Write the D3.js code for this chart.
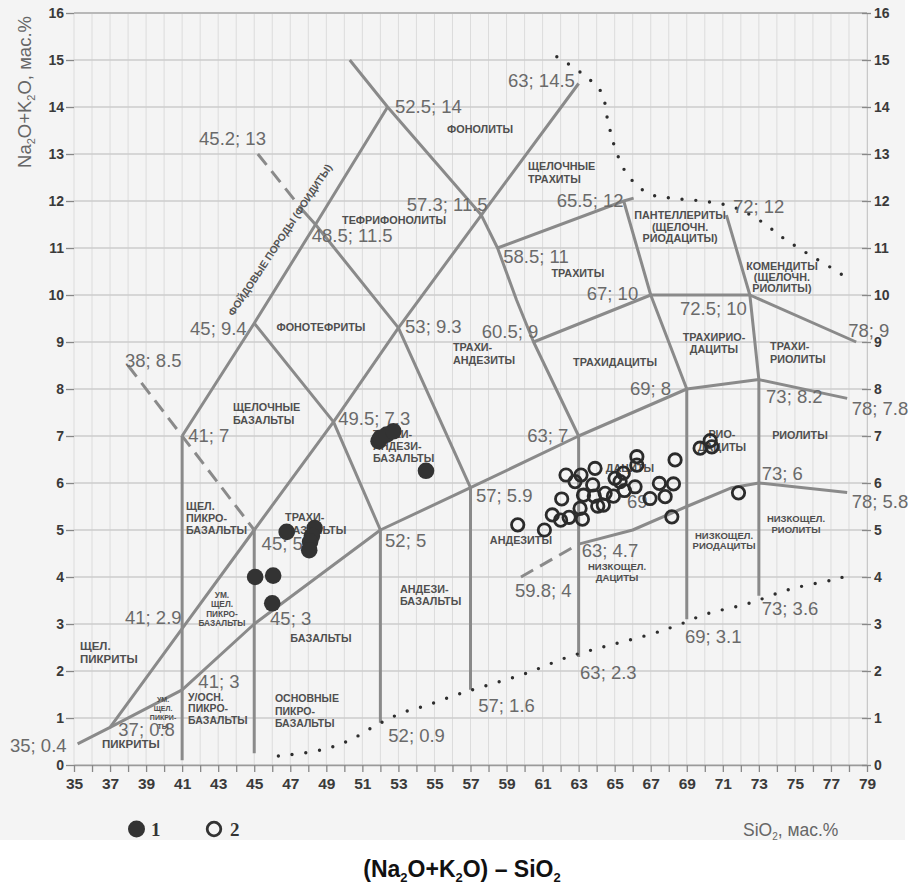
<!DOCTYPE html>
<html><head><meta charset="utf-8">
<script src="https://cdn.jsdelivr.net/npm/d3@7/dist/d3.min.js"></script>
<style>
body{margin:0;background:#fff;}
svg{display:block;font-family:"Liberation Sans",Arial,Helvetica,sans-serif;}
</style>
</head><body>
<svg id="chart" width="919" height="885"></svg>
<script>
// ---------- data ----------
const xTickLabels = [35,37,39,41,43,45,47,49,51,53,55,57,59,61,63,65,67,69,71,73,75,77,79];
const yTickLabels = [0,1,2,3,4,5,6,7,8,9,10,11,12,13,14,15,16];

// series 1 (filled circles)
const s1SiO2 = [45.05, 46.05, 46.0, 46.8, 48.35, 48.2, 48.1, 48.05, 51.9, 52.0, 52.35, 52.72, 54.53];
const s1Alk  = [4.0, 4.03, 3.44, 4.96, 5.04, 4.87, 4.75, 4.57, 6.89, 6.96, 7.03, 7.1, 6.26];

// series 2 (open circles)
const s2SiO2 = [59.62,61.10,61.54,62.00,62.06,62.30,62.47,62.80,63.13,63.08,63.21,63.27,63.78,63.91,63.87,64.06,64.37,64.47,64.93,65.02,65.30,65.48,65.54,66.13,66.23,66.23,66.96,67.48,67.80,68.26,68.35,68.17,69.74,70.30,70.39,71.87];
const s2Alk  = [5.11,5.00,5.32,5.21,5.66,6.17,5.27,6.03,6.17,5.46,5.23,5.74,5.96,6.31,5.72,5.51,5.53,5.78,5.72,6.10,6.03,6.21,5.84,5.92,6.56,6.38,5.67,5.99,5.71,5.98,6.49,5.28,6.74,6.90,6.77,5.79];

// classification boundaries (SiO2, Na2O+K2O)
const bUltraUpper   = [[35.2,0.45],[37,0.8],[41,2.9],[45,5],[49.4,7.3],[53,9.3],[57.6,11.7],[63,14.5]];
const bAlkaliLower  = [[37,0.8],[41,1.6],[45,3],[52,5],[57,5.9],[63,7],[69,8],[73,8.2],[77.9,7.8]];
const bLowAlk       = [[63,4.7],[66,5.0],[69,5.5],[71.5,5.9],[73,6],[77.9,5.8]];
const bPhonoTeph    = [[41,7],[45,9.4],[48.4,11.5],[52.4,14]];
const bTephBasalt   = [[45,9.4],[49.4,7.3],[52,5],[52,0.9]];
const bTephriphon   = [[47.7,11.8],[48.4,11.5],[53,9.3],[57,5.9],[57,1.6]];
const bTrachyte     = [[50.3,15],[52.4,14],[57.6,11.7],[58.5,11],[59.55,9.9],[60.5,9],[63,7],[63,2.3]];
const bTrachyteTop  = [[58.5,11],[65.5,12],[66.05,12.06]];
const bPantellerite = [[65.5,12],[67,10],[69,8],[69,3.1]];
const bTrachydacite = [[60.5,9],[67,10],[72.5,10],[78.4,9]];
const bComendite    = [[71.2,11.7],[72.5,10],[73,8.2],[73,3.6]];
const bX41          = [[41,0.1],[41,7]];
const bX45          = [[45,0.25],[45,5]];
// dashed boundaries
const dFoidite      = [[45.2,13],[47.7,11.8]];
const dPicro        = [[38,8.5],[45,5]];
const dLowAlk       = [[59.8,4],[63,4.7]];
// dotted boundaries
const dotUpper = [[61.79,15.07],[63.12,14.73],[64.25,14.32],[64.62,13.71],[65.02,13.13],[65.69,12.57],[66.87,12.16],[68.45,12.05],[70.06,11.99],[71.59,11.87],[73.07,11.58],[74.40,11.20],[75.75,10.87],[77.14,10.55],[77.82,10.38]];
const dotLower = [[46.34,0.19],[48.71,0.32],[50.26,0.52],[51.70,0.83],[53.14,1.10],[54.66,1.28],[56.2,1.49],[57.71,1.67],[60.07,1.95],[62.43,2.30],[64.74,2.55],[67.06,2.79],[68.53,2.98],[70.06,3.21],[72.36,3.43],[74.73,3.74],[77.10,3.94],[77.88,4.02]];

// vertex labels (text, SiO2, alk of label start/baseline)
const vertexLabels = [
 ["63; 14.5",59.08,14.42],["52.5; 14",52.81,13.87],["45.2; 13",41.94,13.19],["57.3; 11.5",53.46,11.79],
 ["65.5; 12",61.78,11.88],["72; 12",71.56,11.75],["48.5; 11.5",48.19,11.13],["58.5; 11",58.82,10.69],
 ["67; 10",63.45,9.89],["72.5; 10",68.62,9.57],["78; 9",77.96,9.11],["53; 9.3",53.37,9.19],
 ["45; 9.4",41.44,9.15],["60.5; 9",57.62,9.08],["38; 8.5",37.83,8.46],["69; 8",65.85,7.87],
 ["73; 8.2",73.40,7.70],["78; 7.8",78.15,7.45],["41; 7",41.34,6.88],["49.5; 7.3",49.66,7.23],
 ["63; 7",60.15,6.87],["57; 5.9",57.30,5.60],["73; 6",73.16,6.06],["78; 5.8",78.15,5.46],
 ["45; 5",45.41,4.57],["52; 5",52.26,4.64],["63; 4.7",63.17,4.43],["59.8; 4",59.47,3.58],
 ["41; 2.9",37.83,3.01],["45; 3",45.88,2.98],["73; 3.6",73.16,3.19],["69; 3.1",68.90,2.59],
 ["41; 3",41.90,1.63],["63; 2.3",63.08,1.84],["57; 1.6",57.43,1.13],["37; 0.8",37.46,0.62],
 ["35; 0.4",31.45,0.28],["52; 0.9",52.44,0.50],["69",65.68,5.47]
];

// rock-field labels: lines, SiO2, alk (first baseline), anchor, size, line step
const fieldLabels = [
 [["ФОНОЛИТЫ"],57.53,13.44,"middle",10.8,12],
 [["ЩЕЛОЧНЫЕ","ТРАХИТЫ"],60.19,12.65,"start",10.8,13],
 [["ТЕФРИФОНОЛИТЫ"],52.76,11.52,"middle",10.8,12],
 [["ПАНТЕЛЛЕРИТЫ","(ЩЕЛОЧН.","РИОДАЦИТЫ)"],68.63,11.61,"middle",10.8,11.5],
 [["ТРАХИТЫ"],62.96,10.39,"middle",10.8,12],
 [["КОМЕНДИТЫ","(ЩЕЛОЧН.","РИОЛИТЫ)"],74.28,10.54,"middle",10.8,11],
 [["ФОНОТЕФРИТЫ"],48.70,9.24,"middle",10.8,12],
 [["ТРАХИ-","АНДЕЗИТЫ"],56.03,8.80,"start",10.8,13],
 [["ТРАХИДАЦИТЫ"],65.02,8.49,"middle",10.8,12],
 [["ТРАХИРИО-","ДАЦИТЫ"],70.51,9.03,"middle",10.8,12],
 [["ТРАХИ-","РИОЛИТЫ"],73.62,8.82,"start",10.8,13],
 [["РИОЛИТЫ"],75.28,6.94,"middle",10.8,12],
 [["РИО-","ДАЦИТЫ"],70.95,6.95,"middle",10.8,13],
 [["ДАЦИТЫ"],65.85,6.24,"middle",10.8,12],
 [["НИЗКОЩЕЛ.","РИОДАЦИТЫ"],71.07,4.81,"middle",9.5,10.5],
 [["НИЗКОЩЕЛ.","РИОЛИТЫ"],75.06,5.16,"middle",9.5,10.5],
 [["АНДЕЗИТЫ"],59.80,4.70,"middle",10.8,12],
 [["НИЗКОЩЕЛ.","ДАЦИТЫ"],65.13,4.14,"middle",9.5,11],
 [["ЩЕЛОЧНЫЕ","БАЗАЛЬТЫ"],43.82,7.53,"start",10.8,13],
 [["ТРАХИ-","АНДЕЗИ-","БАЗАЛЬТЫ"],51.59,6.96,"start",10.8,12.3],
 [["ТРАХИ-","БАЗАЛЬТЫ"],46.71,5.19,"start",10.8,12.5],
 [["ЩЕЛ.","ПИКРО-","БАЗАЛЬТЫ"],41.21,5.43,"start",10.8,12],
 [["УМ.","ЩЕЛ.","ПИКРО-","БАЗАЛЬТЫ"],43.21,3.55,"middle",8.3,9.2],
 [["ЩЕЛ.","ПИКРИТЫ"],35.33,2.44,"start",11.5,13],
 [["УМ.","ЩЕЛ.","ПИКРИ-","ТЫ"],39.94,1.35,"middle",7,9],
 [["ПИКРИТЫ"],38.16,0.37,"middle",11.5,12],
 [["У/ОСН.","ПИКРО-","БАЗАЛЬТЫ"],41.33,1.37,"start",10.5,11.8],
 [["БАЗАЛЬТЫ"],48.70,2.61,"middle",10.8,12],
 [["ОСНОВНЫЕ","ПИКРО-","БАЗАЛЬТЫ"],46.15,1.33,"start",10.5,12.5],
 [["АНДЕЗИ-","БАЗАЛЬТЫ"],53.09,3.65,"start",10.8,11.7]
];
const foiditeLabel = ["ФОЙДОВЫЕ ПОРОДЫ (ФОИДИТЫ)", 46.43, 11.17];

// ---------- drawing ----------
const svg = d3.select("#chart");
const x = d3.scaleLinear().domain([35,79]).range([74,867]);
const y = d3.scaleLinear().domain([0,16]).range([765,13]);
const gray = "#8a8a8a";

svg.append("rect").attr("x",0).attr("y",0).attr("width",905).attr("height",840).attr("fill","#f4f4f4");

// grid
const allX = d3.range(35,80);
const allY = d3.range(0,17);
svg.append("g").selectAll("line").data(allX).join("line")
  .attr("x1",d=>x(d)).attr("x2",d=>x(d)).attr("y1",y(16)).attr("y2",y(0))
  .attr("stroke","#dcdcdc").attr("stroke-width",1);
svg.append("g").selectAll("line").data(allY).join("line")
  .attr("x1",x(35)).attr("x2",x(79)).attr("y1",d=>y(d)).attr("y2",d=>y(d))
  .attr("stroke",d=>d===16?"#b8b8b8":"#cdcdcd").attr("stroke-width",d=>d===16?2:1.3);

// axes
const fmtX = d => xTickLabels.includes(d) ? d : "";
const xAxis = svg.append("g").attr("transform",`translate(0,${y(0)})`)
  .call(d3.axisBottom(x).tickValues(allX).tickSize(7).tickSizeOuter(0).tickPadding(6).tickFormat(fmtX));
xAxis.select(".domain").attr("stroke","#9a9a9a").attr("stroke-width",1.6);
xAxis.selectAll(".tick line").attr("stroke","#888").attr("stroke-width",1.3);
xAxis.selectAll(".tick text").attr("fill","#3a3a3a").attr("font-size",15.5).attr("font-weight","bold")
  .attr("font-family","'Liberation Sans Narrow','Arial Narrow','Liberation Sans',sans-serif");

const yAxisL = svg.append("g").attr("transform",`translate(${x(35)},0)`)
  .call(d3.axisLeft(y).tickValues(yTickLabels).tickSize(8).tickSizeOuter(0).tickPadding(2).tickFormat(d=>d));
yAxisL.select(".domain").remove();
yAxisL.selectAll(".tick line").attr("stroke","#888").attr("stroke-width",1.3);
yAxisL.selectAll(".tick text").attr("fill","#3a3a3a").attr("font-size",14).attr("font-weight","bold");

const yAxisR = svg.append("g").attr("transform",`translate(${x(79)},0)`)
  .call(d3.axisRight(y).tickValues(yTickLabels).tickSize(4).tickSizeOuter(0).tickPadding(3).tickFormat(d=>d));
yAxisR.select(".domain").attr("stroke","#c8c8c8").attr("stroke-width",1);
yAxisR.selectAll(".tick line").attr("stroke","#888").attr("stroke-width",1.3)
  .attr("x1",-5);
yAxisR.selectAll(".tick text").attr("fill","#3a3a3a").attr("font-size",14).attr("font-weight","bold");

// boundaries
const line = d3.line().x(d=>x(d[0])).y(d=>y(d[1]));
const solid = [bUltraUpper,bAlkaliLower,bLowAlk,bPhonoTeph,bTephBasalt,bTephriphon,bTrachyte,bTrachyteTop,bPantellerite,bTrachydacite,bComendite,bX41,bX45];
svg.append("g").selectAll("path").data(solid).join("path")
  .attr("d",line).attr("fill","none").attr("stroke",gray).attr("stroke-width",3)
  .attr("stroke-linejoin","round");
svg.append("g").selectAll("path").data([dFoidite,dPicro,dLowAlk]).join("path")
  .attr("d",line).attr("fill","none").attr("stroke",gray).attr("stroke-width",3)
  .attr("stroke-dasharray","14 8");
const curve = d3.line().x(d=>x(d[0])).y(d=>y(d[1])).curve(d3.curveCatmullRom);
svg.append("g").selectAll("path").data([dotUpper,dotLower]).join("path")
  .attr("d",curve).attr("fill","none").attr("stroke","#2e2e2e").attr("stroke-width",3.4)
  .attr("stroke-linecap","round").attr("stroke-dasharray","0 13.8");

// vertex labels
svg.append("g").selectAll("text").data(vertexLabels).join("text")
  .attr("x",d=>x(d[1])).attr("y",d=>y(d[2])).text(d=>d[0])
  .attr("font-size",18.5).attr("fill","#6a6a6a");

// field labels
const fl = svg.append("g").attr("font-weight","bold").attr("fill","#4f4f4f");
fieldLabels.forEach(L=>{
  const t = fl.append("text").attr("x",x(L[1])).attr("y",y(L[2])).attr("text-anchor",L[3]).attr("font-size",L[4]);
  L[0].forEach((s,i)=>t.append("tspan").attr("x",x(L[1])).attr("y",y(L[2])+i*L[5]).text(s));
});
svg.append("text").attr("transform",`translate(${x(foiditeLabel[1])},${y(foiditeLabel[2])}) rotate(-56.5)`)
  .attr("text-anchor","middle").attr("dominant-baseline","central").attr("font-size",10.3)
  .attr("font-weight","bold").attr("fill","#555").text(foiditeLabel[0]);

// points
const s1 = s1SiO2.map((v,i)=>[v,s1Alk[i]]);
const s2 = s2SiO2.map((v,i)=>[v,s2Alk[i]]);
svg.append("g").selectAll("circle").data(s2).join("circle")
  .attr("cx",d=>x(d[0])).attr("cy",d=>y(d[1])).attr("r",6.2)
  .attr("fill","none").attr("stroke","#2b2b2b").attr("stroke-width",2.8);
svg.append("g").selectAll("circle").data(s1).join("circle")
  .attr("cx",d=>x(d[0])).attr("cy",d=>y(d[1])).attr("r",8.3)
  .attr("fill","#333");

// axis titles
const yt = svg.append("text").attr("transform","translate(31,92) rotate(-90)")
  .attr("text-anchor","middle").attr("font-size",18.5).attr("fill","#666");
yt.append("tspan").text("Na");
yt.append("tspan").attr("font-size",11).attr("dy",4).text("2");
yt.append("tspan").attr("dy",-4).text("O+K");
yt.append("tspan").attr("font-size",11).attr("dy",4).text("2");
yt.append("tspan").attr("dy",-4).text("O, мас.%");

const xt = svg.append("text").attr("x",743).attr("y",836).attr("font-size",17.5).attr("fill","#666");
xt.append("tspan").text("SiO");
xt.append("tspan").attr("font-size",10).attr("dy",4).text("2");
xt.append("tspan").attr("dy",-4).text(", мас.%");

// legend
svg.append("circle").attr("cx",136.5).attr("cy",829).attr("r",8.5).attr("fill","#333");
svg.append("text").attr("x",151).attr("y",836).attr("font-family","'Liberation Serif','Times New Roman',serif")
  .attr("font-weight","bold").attr("font-size",19).attr("fill","#333").text("1");
svg.append("circle").attr("cx",214).attr("cy",829).attr("r",6.8).attr("fill","none").attr("stroke","#333").attr("stroke-width",2.8);
svg.append("text").attr("x",230).attr("y",836).attr("font-family","'Liberation Serif','Times New Roman',serif")
  .attr("font-weight","bold").attr("font-size",19).attr("fill","#333").text("2");

// title
const tt = svg.append("text").attr("x",462).attr("y",877).attr("text-anchor","middle")
  .attr("font-size",23).attr("font-weight","bold").attr("fill","#111");
tt.append("tspan").text("(Na");
tt.append("tspan").attr("font-size",13).attr("dy",5).text("2");
tt.append("tspan").attr("dy",-5).text("O+K");
tt.append("tspan").attr("font-size",13).attr("dy",5).text("2");
tt.append("tspan").attr("dy",-5).text("O) – SiO");
tt.append("tspan").attr("font-size",13).attr("dy",5).text("2");
</script>
</body></html>
